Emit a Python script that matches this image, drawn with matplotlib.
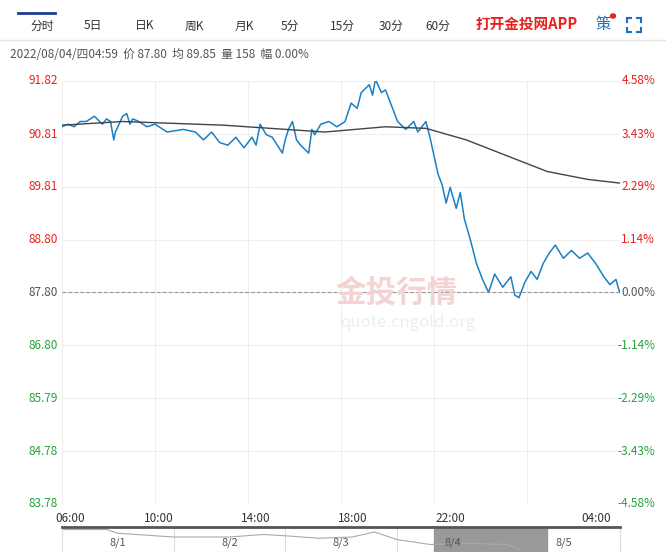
import matplotlib.pyplot as plt
import numpy as np

plt.rcParams['font.family'] = ['Noto Sans CJK SC', 'DejaVu Sans']

# minutes since 06:00 and price
t_pts = [0, 15, 30, 45, 60, 80, 100, 110, 120, 128, 132, 138, 150, 160, 168, 175, 190, 210, 230, 260, 300, 330,
         350, 370, 390, 410, 430, 450, 470, 480, 490, 505, 520, 545, 552, 560, 570, 580, 590, 610, 618, 625, 640,
         660, 680, 700, 715, 730, 740, 760, 768, 775, 790, 800, 810, 830, 850, 870, 880, 890, 900, 910, 920, 930,
         940, 950, 960, 975, 985, 995, 1010, 1025, 1040, 1055, 1070, 1090, 1110, 1120, 1130, 1145, 1160, 1175,
         1190, 1205, 1220, 1240, 1260, 1280, 1300, 1320, 1340, 1355, 1370, 1379]
price = [90.95, 91.0, 90.95, 91.05, 91.05, 91.15, 91.0, 91.1, 91.05, 90.7, 90.85, 90.95, 91.15, 91.2, 91.0, 91.1,
         91.05, 90.95, 91.0, 90.85, 90.9, 90.85, 90.7, 90.85, 90.65, 90.6, 90.75, 90.55, 90.75, 90.6, 91.0, 90.8,
         90.75, 90.45, 90.7, 90.9, 91.05, 90.7, 90.6, 90.45, 90.9, 90.8, 91.0, 91.05, 90.95, 91.05, 91.4, 91.3,
         91.6, 91.75, 91.55, 91.85, 91.6, 91.65, 91.45, 91.05, 90.9, 91.05, 90.85, 90.95, 91.05, 90.75, 90.4,
         90.05, 89.85, 89.5, 89.8, 89.4, 89.7, 89.2, 88.8, 88.35, 88.05, 87.8, 88.15, 87.9, 88.1, 87.75, 87.7,
         88.0, 88.2, 88.05, 88.35, 88.55, 88.7, 88.45, 88.6, 88.45, 88.55, 88.35, 88.1, 87.95, 88.05, 87.8]
t_avg = [0, 150, 400, 650, 800, 900, 1000, 1100, 1200, 1300, 1379]
avg = [90.98, 91.05, 90.98, 90.85, 90.95, 90.92, 90.7, 90.4, 90.1, 89.95, 89.88]

left_ticks = [91.82, 90.81, 89.81, 88.80, 87.80, 86.80, 85.79, 84.78, 83.78]
right_ticks = ['4.58%', '3.43%', '2.29%', '1.14%', '0.00%', '-1.14%', '-2.29%', '-3.43%', '-4.58%']
x_labels = ['06:00', '10:00', '14:00', '18:00', '22:00', '04:00']
x_label_pos = [0, 240, 480, 720, 960, 1320]
tabs = ['分时', '5日', '日K', '周K', '月K', '5分', '15分', '30分', '60分']
days = ['8/1', '8/2', '8/3', '8/4', '8/5']

W, H = 666, 552
fig = plt.figure(figsize=(W / 100, H / 100), dpi=100)

# toolbar
tab_x = [42, 93, 145, 194, 244, 290, 342, 391, 438]
for i, s in enumerate(tabs):
    fig.text(tab_x[i] / W, 1 - 26 / H, s, fontsize=8.5, color='#333333', ha='center', va='center')
fig.add_artist(plt.Line2D([18 / W, 55 / W], [1 - 13 / H] * 2, color='#1c3f8f', lw=2))
fig.add_artist(plt.Line2D([0, 1], [1 - 40 / H] * 2, color='#e5e5e5', lw=1))
fig.text(527 / W, 1 - 24 / H, '打开金投网APP', fontsize=10.5, color='#e8211c', ha='center', va='center', weight='bold')
fig.text(603 / W, 1 - 25 / H, '策', fontsize=11, color='#1f6fc0', ha='center', va='center')
fig.add_artist(plt.Circle((613 / W, 1 - 16 / H), 2.5 / W, color='#e8211c', transform=fig.transFigure))
# fullscreen icon corners
cx, cy, s = 634, 25, 7
for dx in (-1, 1):
    for dy in (-1, 1):
        x0, y0 = cx + dx * s, cy + dy * s
        fig.add_artist(plt.Line2D([x0 / W, (x0 - dx * 4) / W], [1 - y0 / H] * 2, color='#1f6fc0', lw=1.5))
        fig.add_artist(plt.Line2D([x0 / W] * 2, [1 - y0 / H, 1 - (y0 - dy * 4) / H], color='#1f6fc0', lw=1.5))
fig.text(10 / W, 1 - 54 / H, '2022/08/04/四04:59  价 87.80  均 89.85  量 158  幅 0.00%', fontsize=8.5,
         color='#555555', va='center')

ax = fig.add_axes([62 / W, 48 / H, 558 / W, 423 / H])
ax.plot(t_pts, price, color='#1a80c4', lw=1.1)
ax.plot(t_avg, avg, color='#444444', lw=1)
ax.set_xlim(0, 1380)
ax.set_ylim(83.78, 91.82)
ax.axhline(87.80, color='#999999', ls='--', lw=0.8)
for v in left_ticks:
    ax.axhline(v, color='#eeeeee', lw=0.8, zorder=0)
for xv in np.linspace(0, 1380, 7):
    ax.axvline(xv, color='#eeeeee', lw=0.8, zorder=0)
for sp in ax.spines.values():
    sp.set_visible(False)
ax.set_xticks([])
ax.set_yticks([])
for v, r in zip(left_ticks, right_ticks):
    c = '#e8211c' if v > 87.81 else ('#555555' if v > 87.79 else '#23a33b')
    yy = ax.transData.transform((0, v))[1] / H
    fig.text(58 / W, yy, '%.2f' % v, color=c, fontsize=8.5, ha='right', va='center')
    fig.text(655 / W, yy, r, color=c, fontsize=8.5, ha='right', va='center')
for p, s in zip(x_label_pos, x_labels):
    ha = 'left' if p == 0 else 'center'
    fig.text(ax.transData.transform((p, 0))[0] / W - (0.01 if p == 0 else 0), 1 - 518 / H, s, fontsize=8.5,
             color='#333333', ha=ha, va='center')
# watermark
ax.text(0.6, 0.5, '金投行情', transform=ax.transAxes, fontsize=22, color='#f3d3d3', ha='center', va='center',
        weight='bold')
ax.text(0.62, 0.43, 'quote.cngold.org', transform=ax.transAxes, fontsize=12, color='#eeeeee', ha='center',
        va='center')

# navigator
nav = fig.add_axes([62 / W, 0, 558 / W, 25 / H])
nav.set_xlim(0, 5)
nav.set_ylim(0, 1)
nav.axvspan(3.33, 4.35, color='#999999')
for i, d in enumerate(days):
    nav.text(i + 0.5, 0.35, d, ha='center', va='center', fontsize=8, color='#555555')
for xv in [1, 2, 3]:
    nav.axvline(xv, color='#dddddd', lw=0.8)
nav.plot([0, 0.4, 0.5, 1, 1.5, 1.8, 2, 2.3, 2.6, 2.8, 3, 3.3, 3.6, 4.0, 4.1],
         [0.9, 0.9, 0.75, 0.6, 0.6, 0.7, 0.65, 0.55, 0.6, 0.8, 0.5, 0.3, 0.35, 0.3, 0.1], color='#aaaaaa', lw=0.8)
nav.set_xticks([])
nav.set_yticks([])
for sp in nav.spines.values():
    sp.set_color('#dddddd')
nav.spines['top'].set_color('#555555')
nav.spines['top'].set_linewidth(2)

fig.savefig('out.png', dpi=100)
